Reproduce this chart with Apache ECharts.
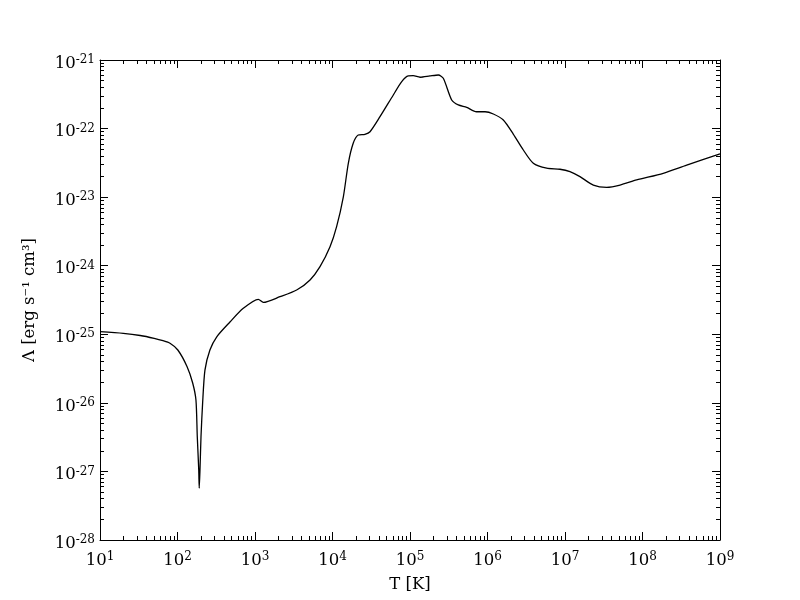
<!DOCTYPE html>
<html>
<head>
<meta charset="utf-8">
<title>Cooling function</title>
<script src="https://cdn.jsdelivr.net/npm/echarts@6/dist/echarts.min.js"></script>
<style>
    html, body {margin: 0; padding: 0; background: #fff;}
    #cooling_chart {width: 800px; height: 600px;}
</style>
</head>
<body>
<div id="cooling_chart"></div>
<script>
// 温度 T [K]
var temperature = [
    10, 20, 33, 50, 65, 80, 101, 133, 157, 173, 180, 188, 190.7, 195, 201, 211, 226,
    262, 321, 475, 706, 1104, 1280, 2100, 3450, 5130, 6900, 9290,
    1.13e4, 1.38e4, 1.60e4, 1.85e4, 2.15e4, 2.62e4, 3.05e4, 4.10e4, 6.09e4, 7.82e4, 9.5e4,
    1.10e5, 1.35e5, 1.81e5, 2.32e5, 2.69e5, 3.45e5, 4.2e5, 5.39e5, 7.2e5, 9.3e5,
    1.19e6, 1.60e6, 2.15e6, 2.90e6, 3.90e6, 5.8e6, 8.6e6,
    1.16e7, 1.56e7, 2.32e7, 3.45e7, 5.13e7, 8.4e7,
    1.85e8, 3.72e8, 1e9
];
// 冷却函数 Λ [erg s^-1 cm^3]
var lambda = [
    1.09e-25, 1.03e-25, 9.6e-26, 8.73e-26, 8.07e-26, 7.4e-26, 5.9e-26, 3.37e-26, 1.95e-26, 1.1e-26, 3.2e-27, 1.05e-27, 5.7e-28, 1.05e-27, 3.2e-27, 1.0e-26, 3.0e-26,
    5.9e-26, 9.2e-26, 1.51e-25, 2.39e-25, 3.24e-25, 2.92e-25, 3.53e-25, 4.42e-25, 6.2e-25, 9.7e-25, 1.89e-24,
    3.71e-24, 1.01e-23, 3.12e-23, 6.1e-23, 8.05e-23, 8.25e-23, 9.0e-23, 1.49e-22, 3.09e-22, 4.83e-22, 5.85e-22,
    5.9e-22, 5.6e-22, 5.85e-22, 6.04e-22, 5.41e-22, 2.61e-22, 2.21e-22, 2.04e-22, 1.76e-22, 1.76e-22,
    1.63e-22, 1.33e-22, 8.3e-23, 4.87e-23, 3.12e-23, 2.64e-23, 2.55e-23,
    2.35e-23, 1.99e-23, 1.50e-23, 1.39e-23, 1.50e-23, 1.78e-23,
    2.23e-23, 2.94e-23, 4.26e-23
];
// 坐标范围（十的幂次）
var xDecades = [1, 9];
var yDecades = [-28, -21];

var FONT = 'DejaVu Serif';

/**
 * 某个十进制范围内的次刻度位置（对数空间）
 */
function minorLogTicks(range) {
    var ticks = [];
    for (var n = range[0]; n < range[1]; n++) {
        for (var k = 2; k <= 9; k++) {
            ticks.push(n + Math.log10(k));
        }
    }
    return ticks;
}

/**
 * 10 的幂次标签
 */
function powerLabel(value) {
    var exp = Math.round(Math.log10(value));
    return '{b|10}{s|' + exp + '}';
}

var labelRich = {
    b: {fontFamily: FONT, fontSize: 16.5, color: '#000', verticalAlign: 'bottom', lineHeight: 24},
    s: {fontFamily: FONT, fontSize: 12, color: '#000', verticalAlign: 'bottom', lineHeight: 24, padding: [0, 0, 6, 0]}
};

var lineStyleBlack = {color: '#000', width: 1};

/**
 * 对数轴（y 轴的范围由数据自动取整到 10^-28 ~ 10^-21，显式的 min 会被舍入为 0）
 */
function logAxis(position, withLabel, extra) {
    var axis = {
        type: 'log',
        logBase: 10,
        interval: 1,
        position: position,
        axisLine: {show: true, onZero: false, lineStyle: lineStyleBlack},
        axisTick: {show: true, inside: true, length: 8, lineStyle: lineStyleBlack},
        axisLabel: withLabel ? {formatter: powerLabel, rich: labelRich, margin: 5} : {show: false},
        splitLine: {show: false}
    };
    for (var key in extra) {
        axis[key] = extra[key];
    }
    return axis;
}

/**
 * 只画次刻度的辅助轴（对数空间的数值轴）
 */
function minorAxis(position, range) {
    return {
        type: 'value',
        min: range[0],
        max: range[1],
        position: position,
        axisLine: {show: false, onZero: false},
        axisTick: {show: true, inside: true, length: 4, customValues: minorLogTicks(range), lineStyle: lineStyleBlack},
        axisLabel: {show: false},
        splitLine: {show: false}
    };
}

/**
 * 冷却函数图表
 */
function coolingChart() {
    var myChart = echarts.init(document.getElementById('cooling_chart'));
    var points = temperature.map(function (t, i) {
        return [t, lambda[i]];
    });
    var xRange = {min: Math.pow(10, xDecades[0]), max: Math.pow(10, xDecades[1])};
    var option = {
        backgroundColor: '#fff',
        animation: false,
        grid: {left: 100, right: 80, top: 60, bottom: 60, containLabel: false, outerBoundsMode: 'none'},
        xAxis: [
            logAxis('bottom', true, {
                min: xRange.min,
                max: xRange.max,
                name: 'T [K]',
                nameLocation: 'middle',
                nameGap: 36,
                nameTextStyle: {fontFamily: FONT, fontSize: 16.5, color: '#000'}
            }),
            logAxis('top', false, {min: xRange.min, max: xRange.max}),
            minorAxis('bottom', xDecades),
            minorAxis('top', xDecades)
        ],
        yAxis: [
            logAxis('left', true, {
                name: 'Λ [erg s⁻¹ cm³]',
                nameLocation: 'middle',
                nameGap: 62,
                nameTextStyle: {fontFamily: FONT, fontSize: 16.5, color: '#000'}
            }),
            logAxis('right', false, {}),
            minorAxis('left', yDecades),
            minorAxis('right', yDecades)
        ],
        series: [
            {
                type: 'line',
                xAxisIndex: 0,
                yAxisIndex: 0,
                data: points,
                showSymbol: false,
                smooth: 0.25,
                lineStyle: {color: '#000', width: 1.3},
                silent: true
            },
            {
                // 同样的数据挂在右侧 y 轴上，使其范围与左轴一致
                type: 'line',
                xAxisIndex: 1,
                yAxisIndex: 1,
                data: points,
                showSymbol: false,
                lineStyle: {opacity: 0},
                silent: true
            }
        ]
    };
    if (option && typeof option === "object") {
        myChart.setOption(option, true);
    }
}

coolingChart();
</script>
</body>
</html>
